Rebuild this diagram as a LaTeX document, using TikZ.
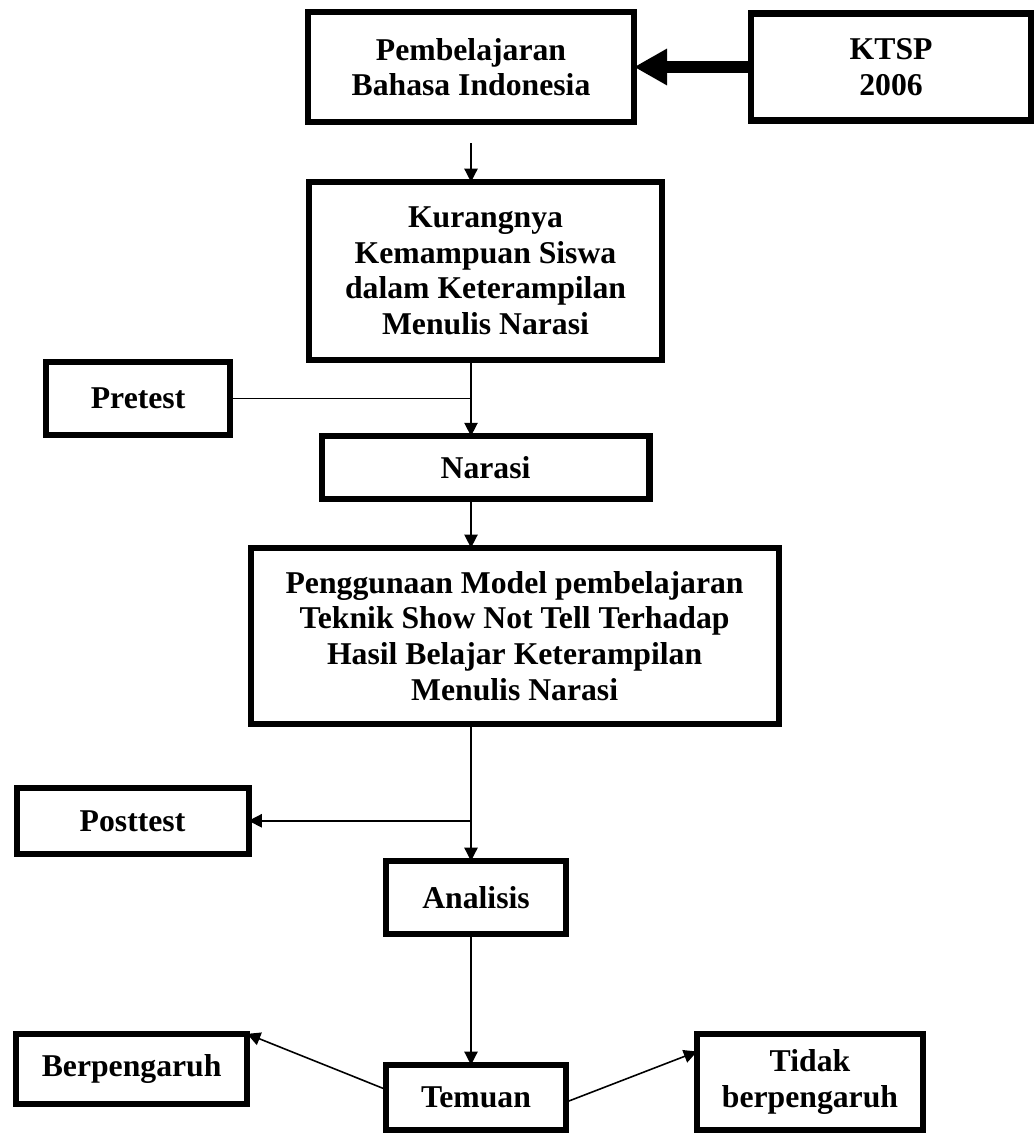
\documentclass[tikz,border=0pt]{standalone}
\usepackage{fontspec}
\setmainfont{Liberation Serif}
\usetikzlibrary{positioning,arrows.meta}

\tikzset{
  box/.style={draw, line width=2.3pt, inner sep=0pt, outer sep=0pt, align=center,
    font=\bfseries\fontsize{12}{13.5}\selectfont},
  link/.style={line width=0.6pt, -{Triangle[length=5pt,width=5pt]}},
  bigarrow/.style={line width=4.2pt, -{Triangle[length=12.5pt,width=13pt]}}
}

\begin{document}
\begin{tikzpicture}[x=0.3785pt, y=-0.3785pt]
	\useasboundingbox (0,0) rectangle (1035,1133);

	\node[box, minimum width=123.4pt, minimum height=41.6pt] (bi) at (471,67) {Pembelajaran\\Bahasa Indonesia};
	\node[box, minimum width=106pt, minimum height=40.5pt, right=44.3pt of bi] (ktsp) {KTSP\\2006};
	\node[box, minimum width=133.6pt, minimum height=67.4pt, below=22.7pt of bi, xshift=5.5pt] (kurang) {Kurangnya\\Kemampuan Siswa\\dalam Keterampilan\\Menulis Narasi};
	\node[box, minimum width=69.6pt, minimum height=27.6pt, below left=0.8pt and 29.9pt of kurang.south west] (pre) {Pretest};
	\node[box, minimum width=124.1pt, minimum height=23.8pt, below=28.8pt of kurang] (narasi) {Narasi};
	\node[box, minimum width=199.8pt, minimum height=66.6pt, below=18.5pt of narasi, xshift=11pt] (model) {Penggunaan Model pembelajaran\\Teknik Show Not Tell Terhadap\\Hasil Belajar Keterampilan\\Menulis Narasi};
	\node[box, minimum width=87.8pt, minimum height=25pt, below left=24.2pt and 0.8pt of model.south west] (post) {Posttest};
	\node[box, minimum width=67.8pt, minimum height=27.6pt, below=51.9pt of model, xshift=-14.6pt] (analisis) {Analisis};
	\node[box, minimum width=68.1pt, minimum height=24.6pt, below=49.6pt of analisis] (temuan) {Temuan};
	\node[box, minimum width=87.4pt, minimum height=26.5pt, left=52.6pt of temuan, yshift=10.8pt] (ya) {Berpengaruh};
	\node[box, minimum width=85.5pt, minimum height=36.3pt, right=49.6pt of temuan, yshift=5.9pt] (tidak) {Tidak\\berpengaruh};

	\draw[bigarrow] (ktsp.west) -- (bi.east);
	\draw[link, shorten <=8pt] (bi.south) -- (kurang.north -| bi.south);
	\draw[link] (kurang.south -| bi.south) -- (narasi.north -| bi.south);
	\draw[line width=0.6pt] (pre.east) -- (pre.east -| bi.south);
	\draw[link] (narasi.south -| bi.south) -- (model.north -| bi.south);
	\draw[link] (model.south -| bi.south) -- (analisis.north -| bi.south);
	\draw[link] (post.east -| bi.south) -- (post.east);
	\draw[link] (analisis.south -| bi.south) -- (temuan.north -| bi.south);
	\draw[link] (temuan.175) -- (ya.north east);
	\draw[link] (temuan.-3) -- (tidak.165);

\end{tikzpicture}
\end{document}
